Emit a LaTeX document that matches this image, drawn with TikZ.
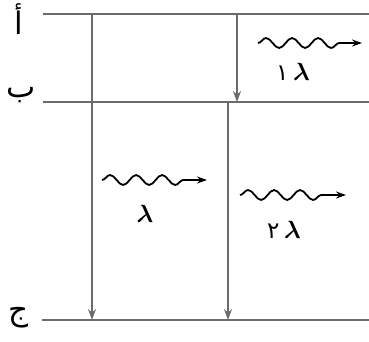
\documentclass[tikz,border=0pt]{standalone}
\usepackage{fontspec}
\usepackage{amsmath,amssymb}
\usepackage{tikz}
\usetikzlibrary{arrows.meta,decorations.pathmorphing}
\newfontfamily\arabicfont[Script=Arabic]{DejaVu Sans}
\TeXXeTstate=1
\definecolor{lvlgray}{gray}{0.42}

\begin{document}
\begin{tikzpicture}[x=1pt,y=-1pt,>=Stealth, every node/.style={font=\fontsize{27}{30}\selectfont}]
\tikzstyle{level}=[draw=lvlgray,line width=1.3pt]
\tikzstyle{fall}=[-{Stealth[length=11pt,width=8pt]},draw=lvlgray,line width=1.3pt]
\tikzstyle{wave}=[-{Stealth[length=10pt,width=7pt]},line width=1.8pt,decorate,decoration={snake,segment length=26pt,amplitude=5pt,pre length=0pt,post length=14pt}]
\tikzstyle{lett}=[font=\arabicfont\fontsize{31}{33}\selectfont]
\useasboundingbox (0,0) rectangle (369,341);
% energy levels
\coordinate (aL) at (43,14);  \coordinate (aR) at (369,14);
\coordinate (bL) at (43,102); \coordinate (bR) at (369,102);
\coordinate (cL) at (42,320); \coordinate (cR) at (369,320);
\draw[level] (aL) -- (aR);
\draw[level] (bL) -- (bR);
\draw[level] (cL) -- (cR);
\node[lett] (la) at (19,19) {\beginR أ\endR};
\node[lett] (lb) at (21,95) {\beginR ب\endR};
\node[lett] (lc) at (19,318) {\beginR ج\endR};
% transitions
\coordinate (t1a) at (92,14);  \coordinate (t1c) at (92,320);
\coordinate (t2a) at (237,14); \coordinate (t2b) at (237,102);
\coordinate (t3b) at (228,102); \coordinate (t3c) at (228,320);
\draw[fall] (t1a) -- (t1c);
\draw[fall] (t2a) -- (t2b);
\draw[fall] (t3b) -- (t3c);
% photons
\coordinate (w1s) at (258,43);  \coordinate (w1e) at (362,43);
\coordinate (w2s) at (102,180); \coordinate (w2e) at (207,180);
\coordinate (w3s) at (240,195); \coordinate (w3e) at (346,195);
\draw[wave] (w1s) -- (w1e);
\draw[wave] (w2s) -- (w2e);
\draw[wave] (w3s) -- (w3e);
\node (p1) at (293,72) {{\fontsize{23}{25}\selectfont\arabicfont ١}\,$\boldsymbol{\lambda}$};
\node (p2) at (145,214) {$\boldsymbol{\lambda}$};
\node (p3) at (284,230) {{\fontsize{23}{25}\selectfont\arabicfont ٢}\,$\boldsymbol{\lambda}$};
\end{tikzpicture}
\end{document}
